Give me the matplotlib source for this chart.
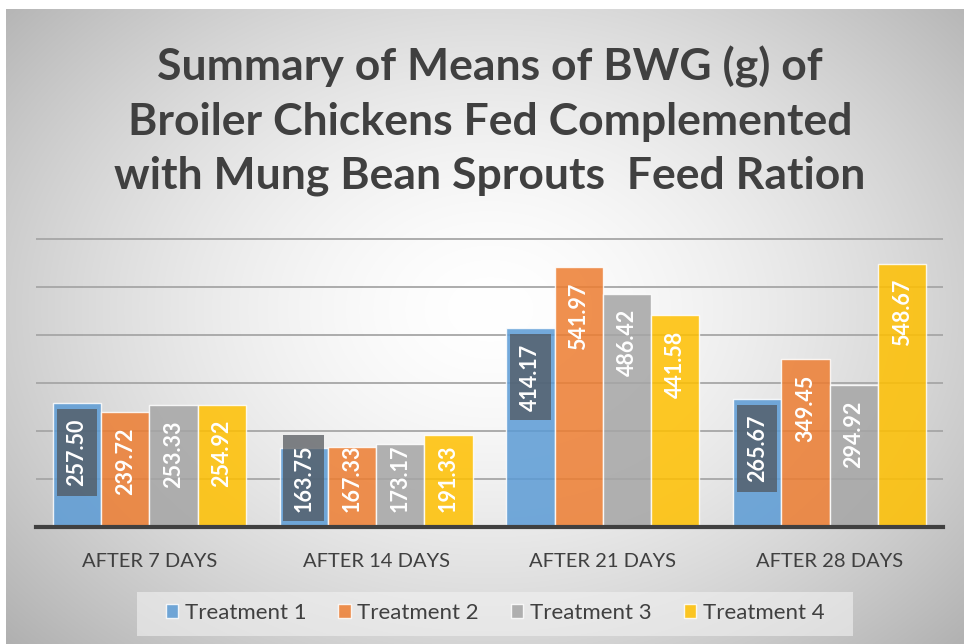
import numpy as np
import matplotlib
matplotlib.use('Agg')
import matplotlib.pyplot as plt
from matplotlib.patches import Patch, Rectangle

categories = ['AFTER 7 DAYS', 'AFTER 14 DAYS', 'AFTER 21 DAYS', 'AFTER 28 DAYS']
treatments = ['Treatment 1', 'Treatment 2', 'Treatment 3', 'Treatment 4']
treatment_1 = [257.50, 163.75, 414.17, 265.67]
treatment_2 = [239.72, 167.33, 541.97, 349.45]
treatment_3 = [253.33, 173.17, 486.42, 294.92]
treatment_4 = [254.92, 191.33, 441.58, 548.67]
series = [treatment_1, treatment_2, treatment_3, treatment_4]
colors = ['#5B9BD5', '#ED7D31', '#A5A5A5', '#FFC000']
title = ('Summary of Means of BWG (g) of\n'
         'Broiler Chickens Fed Complemented\n'
         'with Mung Bean Sprouts  Feed Ration')

W, H = 964, 644
fig = plt.figure(figsize=(W / 100, H / 100), dpi=100)
fig.patch.set_facecolor('white')

# radial grey gradient behind the chart (Excel style)
bg = fig.add_axes([6 / W, 0, 958 / W, 635 / H])
yy, xx = np.mgrid[0:635, 0:958]
r = np.sqrt(((xx - 484) / 560.0) ** 2 + ((yy - 300) / 420.0) ** 2)
shade = 1.0 - 0.24 * np.clip(r, 0, 1.2) ** 1.6
bg.imshow(np.dstack([shade] * 3), aspect='auto', interpolation='bilinear')
bg.set_axis_off()

# plot area: baseline at y=527px, 600 at y=239px
left, right, bottom, top = 36, 943, 527, 239
ax = fig.add_axes([left / W, (H - bottom) / H, (right - left) / W, (bottom - top) / H])
ax.set_facecolor('none')
ax.set_xlim(-0.5, len(categories) - 0.5)
ax.set_ylim(0, 600)
for s in ax.spines.values():
    s.set_visible(False)
ax.set_yticks([])

ax.hlines(range(100, 700, 100), -0.5, len(categories) - 0.5, color='#A6A6A6',
          lw=1.3, zorder=1, clip_on=False)
ax.axhline(0, color='#404040', lw=3, zorder=4, clip_on=False)

x = np.arange(len(categories))
width = 0.213
px_per_unit = (bottom - top) / 600.0

for i, (vals, c) in enumerate(zip(series, colors)):
    pos = x + (i - 1.5) * width
    ax.bar(pos, vals, width=width, color=c, alpha=0.85, edgecolor=(1, 1, 1, 0.6),
           linewidth=1, zorder=2)
    for xp, v in zip(pos, vals):
        box = None
        if i == 0:
            box = dict(boxstyle='square,pad=0.45', facecolor='#505459', alpha=0.72,
                       edgecolor='none')
        # short bars: label sits on the baseline instead of the bar end
        if v * px_per_unit < 100:
            ax.annotate(f'{v:.2f}', xy=(xp, 0), xytext=(0, 11), textcoords='offset points',
                        rotation=90, ha='center', va='bottom', color='white',
                        fontsize=15.5, fontweight='bold', family='Lato', bbox=box, zorder=5)
        else:
            ax.annotate(f'{v:.2f}', xy=(xp, v), xytext=(0, -11), textcoords='offset points',
                        rotation=90, ha='center', va='top', color='white',
                        fontsize=15.5, fontweight='bold', family='Lato', bbox=box, zorder=5)

ax.set_xticks(x)
ax.set_xticklabels(categories, fontsize=14.5, color='#404040', family='Lato')
ax.tick_params(axis='x', length=0, pad=19)

fig.text(490 / W, 1 - 121 / H, title, ha='center', va='center', fontsize=32,
         fontweight='bold', color='#404040', family='Lato', linespacing=1.42)

# legend background strip
fig.patches.append(Rectangle((137 / W, 1 - 636 / H), (853 - 137) / W, 44 / H,
                             transform=fig.transFigure, facecolor='#F2F2F2',
                             alpha=0.6, edgecolor='none', zorder=0))

handles = [Patch(facecolor=c, alpha=0.85, edgecolor=(1, 1, 1, 0.6)) for c in colors]
leg = fig.legend(handles, treatments, loc='center', bbox_to_anchor=(495 / W, 1 - 613 / H),
                 ncol=4, frameon=False, handlelength=0.55, handleheight=0.55,
                 handletextpad=0.3, columnspacing=1.45, borderpad=0.3,
                 prop={'family': 'Lato', 'size': 16})
for t in leg.get_texts():
    t.set_color('#404040')

fig.savefig('out.png', dpi=100)
